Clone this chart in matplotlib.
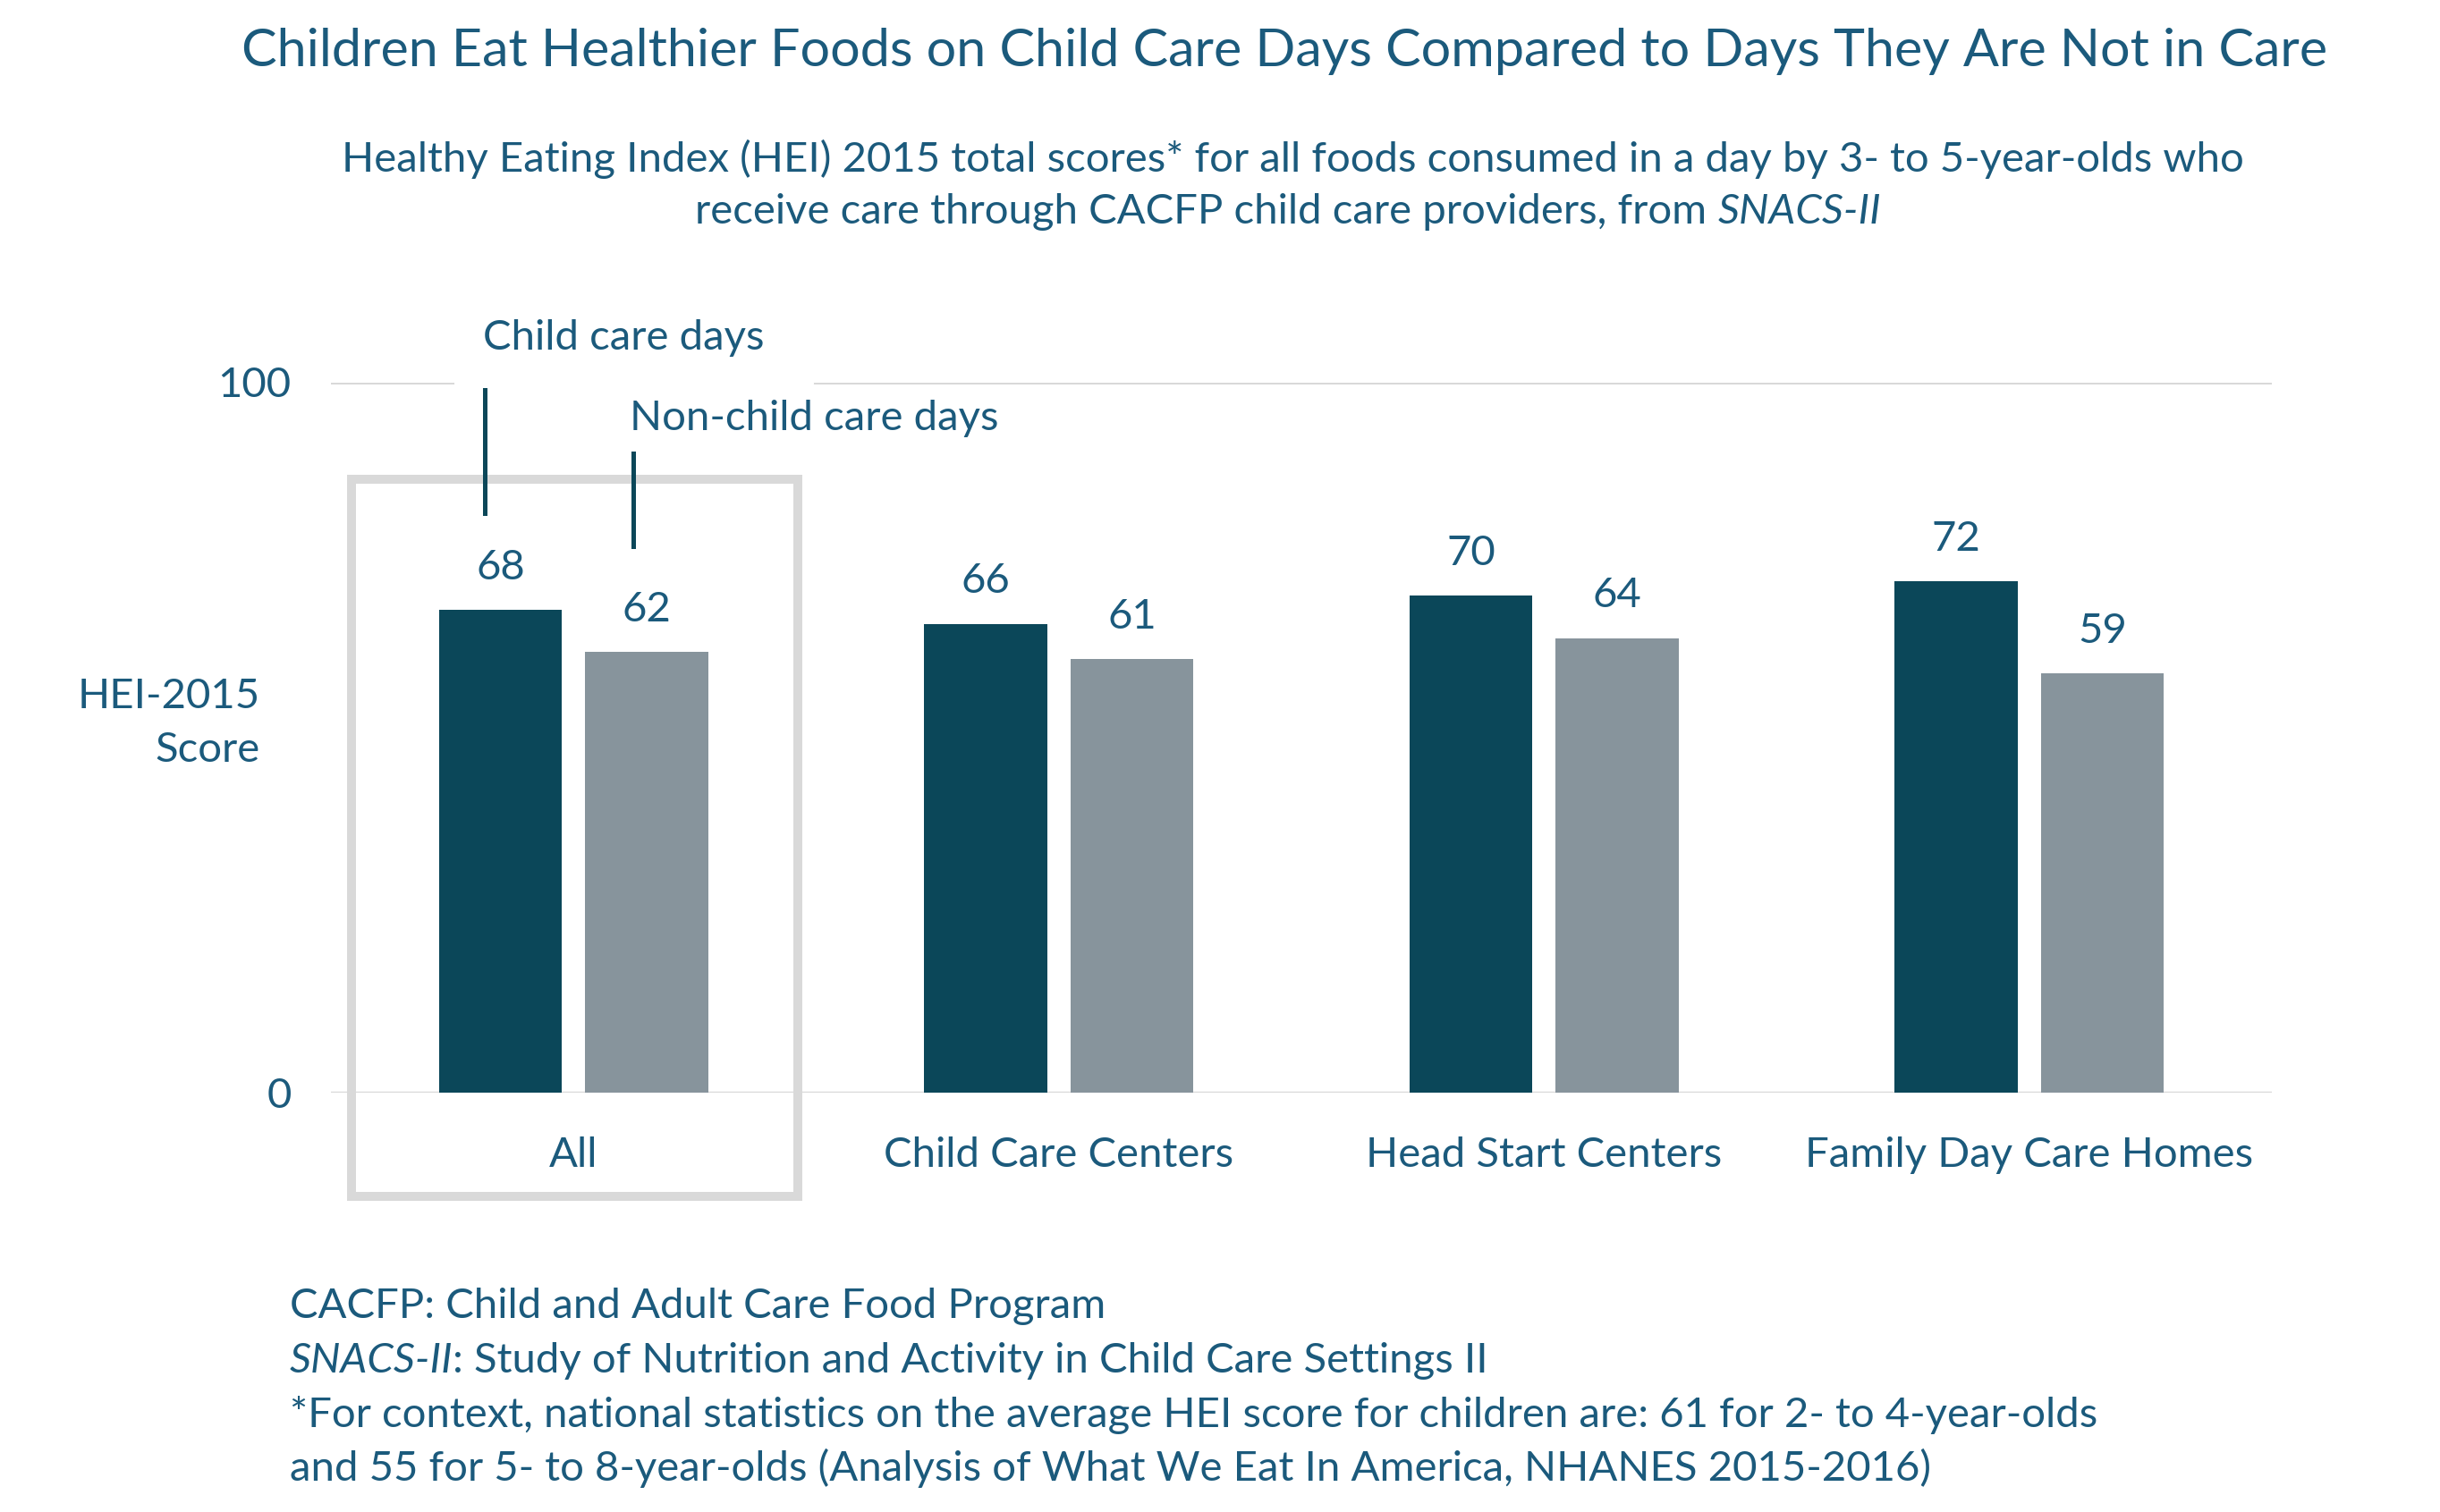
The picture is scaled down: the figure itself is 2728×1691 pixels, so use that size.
import matplotlib
matplotlib.use('Agg')
import matplotlib.pyplot as plt
from matplotlib.patches import Rectangle
import numpy as np

plt.rcParams['font.family'] = ['Lato', 'DejaVu Sans']

categories = ['All', 'Child Care Centers', 'Head Start Centers', 'Family Day Care Homes']
care_days = [68, 66, 70, 72]
non_care_days = [62, 61, 64, 59]
series_names = ['Child care days', 'Non-child care days']
y_ticks = [0, 100]

title = 'Children Eat Healthier Foods on Child Care Days Compared to Days They Are Not in Care'
sub1 = 'Healthy Eating Index (HEI) 2015 total scores* for all foods consumed in a day by 3- to 5-year-olds who'
sub2 = 'receive care through CACFP child care providers, from '
notes = ['CACFP: Child and Adult Care Food Program',
         ': Study of Nutrition and Activity in Child Care Settings II',
         '*For context, national statistics on the average HEI score for children are: 61 for 2- to 4-year-olds',
         'and 55 for 5- to 8-year-olds (Analysis of What We Eat In America, NHANES 2015-2016)']

TXT = '#1b5a7c'
DARK = '#0b4759'
GRAY = '#87949c'
LIGHT = '#d9d9d9'
FS = 34
W, H = 2728, 1691

fig = plt.figure(figsize=(W / 100, H / 100), dpi=100)
ax = fig.add_axes([370 / W, 1 - 1222 / H, 2170 / W, 794.5 / H])

x = np.arange(len(categories))
w = 0.254
off = 0.1506
ax.bar(x - off, care_days, w, color=DARK, zorder=3)
ax.bar(x + off, non_care_days, w, color=GRAY, zorder=3)

for xs, vals in [(x - off, care_days), (x + off, non_care_days)]:
    for xi, v in zip(xs, vals):
        ax.annotate(str(v), (xi, v), xytext=(0, 34), textcoords='offset points',
                    ha='center', va='center', fontsize=FS, color=TXT)

ax.set_xlim(-0.5, 3.5)
ax.set_ylim(0, 100)
for s in ax.spines.values():
    s.set_visible(False)
ax.axhline(0, color=LIGHT, lw=2.5, zorder=2)
ax.axhline(100, 0, 0.0627, color=LIGHT, lw=2.2, zorder=2)
ax.axhline(100, 0.2493, 1, color=LIGHT, lw=2.2, zorder=2)

ax.set_yticks(y_ticks)
ax.set_yticklabels([str(t) for t in y_ticks])
ax.set_xticks(x)
ax.set_xticklabels(categories)
ax.tick_params(axis='y', length=0, pad=32, labelsize=FS, labelcolor=TXT)
ax.tick_params(axis='x', length=0, pad=35, labelsize=FS, labelcolor=TXT)

fig.text(290.5 / W, 0.5215, 'HEI-2015\nScore', ha='right', va='center',
         fontsize=FS, color=TXT, linespacing=1.55)

# highlight box around "All"
ax.add_patch(Rectangle((-0.458, -14.6), 0.921, 100.9, fill=False,
                       edgecolor=LIGHT, lw=7.2, clip_on=False, zorder=1))

# series labels with leader lines
ax.plot([-0.183, -0.183], [98.9, 81.6], color=DARK, lw=3.6, clip_on=False, zorder=4)
ax.plot([0.123, 0.123], [90.0, 76.9], color=DARK, lw=3.6, clip_on=False, zorder=4)
ax.text(-0.1875, 106.2, series_names[0], ha='left', va='center', fontsize=FS, color=TXT)
ax.text(0.1165, 94.9, series_names[1], ha='left', va='center', fontsize=FS, color=TXT)

fig.text(0.5265, 1 - 57.4 / H, title, ha='center', va='center', fontsize=42.7, color=TXT)

# subtitle with italic study name
fig.text(0.5297, 1 - 177.5 / H, sub1, ha='center', va='center', fontsize=FS, color=TXT)
r = fig.canvas.get_renderer()
t_a = fig.text(0, 1 - 236.6 / H, sub2, ha='left', va='center', fontsize=FS, color=TXT)
t_b = fig.text(0, 1 - 236.6 / H, 'SNACS-II', ha='left', va='center', fontsize=FS,
               color=TXT, style='italic')
wa = t_a.get_window_extent(r).width / W
wb = t_b.get_window_extent(r).width / W
x0 = 0.528 - (wa + wb) / 2
t_a.set_x(x0)
t_b.set_x(x0 + wa)

# footnotes
fx = 323.6 / W
ys = [1461, 1522, 1583, 1642]
fig.text(fx, 1 - ys[0] / H, notes[0], ha='left', va='center', fontsize=FS, color=TXT)
t_i = fig.text(fx, 1 - ys[1] / H, 'SNACS-II', ha='left', va='center', fontsize=FS,
               color=TXT, style='italic')
wi = t_i.get_window_extent(r).width / W
fig.text(fx + wi, 1 - ys[1] / H, notes[1], ha='left', va='center', fontsize=FS, color=TXT)
fig.text(fx, 1 - ys[2] / H, notes[2], ha='left', va='center', fontsize=FS, color=TXT)
fig.text(fx, 1 - ys[3] / H, notes[3], ha='left', va='center', fontsize=FS, color=TXT)

fig.savefig('out.png', dpi=100, facecolor='white')
